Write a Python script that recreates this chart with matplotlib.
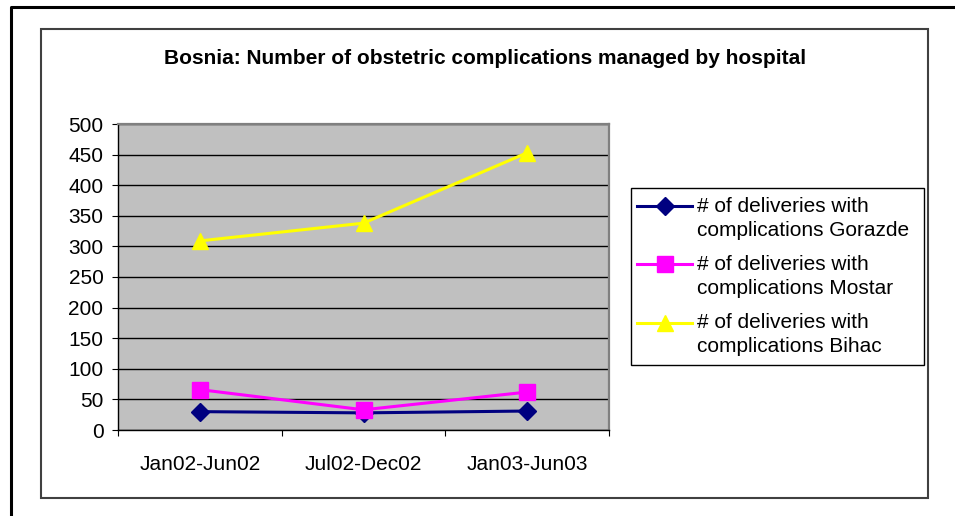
import numpy as np
import matplotlib
import matplotlib.pyplot as plt
from matplotlib.patches import Rectangle
from matplotlib.lines import Line2D

matplotlib.use('Agg')
plt.rcParams['font.family'] = ['Liberation Sans', 'DejaVu Sans']

# Данные
periods = ["Jan02-Jun02", "Jul02-Dec02", "Jan03-Jun03"]
gorazde = [30, 28, 31]
mostar = [66, 33, 62]
bihac = [309, 338, 453]
labels = ["# of deliveries with\ncomplications Gorazde",
          "# of deliveries with\ncomplications Mostar",
          "# of deliveries with\ncomplications Bihac"]
colors = ['#000080', '#ff00ff', '#ffff00']
markers = ['D', 's', '^']
msizes = [9, 12, 12]

W, H = 955, 516
fig = plt.figure(figsize=(W / 100, H / 100), dpi=100)


# перевод пикселей в координаты фигуры
def fx(px):
    return px / W


def fy(py):
    return 1 - py / H


# внешняя рамка (правый и нижний края за пределами картинки)
fig.lines.append(Line2D([fx(11), fx(11), fx(956)], [fy(517), fy(7), fy(7)],
                        transform=fig.transFigure, color='black', linewidth=2.2))
# рамка области диаграммы
fig.patches.append(Rectangle((fx(41), fy(498)), (928 - 41) / W, (498 - 29) / H,
                             transform=fig.transFigure, fill=False,
                             edgecolor='#404040', linewidth=1.5))

ax = fig.add_axes([fx(118), fy(430), (609 - 118) / W, (430 - 124) / H])
ax.set_facecolor('#c0c0c0')
x = np.arange(len(periods))
series = [gorazde, mostar, bihac]
for vals, c, m, ms, lab in zip(series, colors, markers, msizes, labels):
    ax.plot(x, vals, color=c, marker=m, markersize=ms, linewidth=2.2, label=lab)

ax.set_xlim(-0.5, 2.5)
ax.set_ylim(0, 500)
ax.set_yticks(range(0, 501, 50))
ax.yaxis.grid(True, color='black', linewidth=1)
ax.set_axisbelow(True)
ax.set_xticks([-0.5, 0.5, 1.5, 2.5])
ax.set_xticklabels([])
ax.set_xticks(x, minor=True)
ax.set_xticklabels(periods, minor=True)
ax.tick_params(axis='x', which='minor', length=0, pad=18, labelsize=15)
ax.tick_params(axis='x', which='major', length=4.5, direction='out')
ax.tick_params(axis='y', length=4.5, direction='out', labelsize=15, pad=6)
for s in ['top', 'right']:
    ax.spines[s].set_color('#808080')
    ax.spines[s].set_linewidth(1.6)
for s in ['left', 'bottom']:
    ax.spines[s].set_color('black')
    ax.spines[s].set_linewidth(1)

fig.text(fx(485), fy(58), "Bosnia: Number of obstetric complications managed by hospital",
         ha='center', va='center', fontsize=15, fontweight='bold')

# легенда: маркер на уровне первой строки подписи
fig.patches.append(Rectangle((fx(631), fy(365)), (924 - 631) / W, (365 - 188) / H,
                             transform=fig.transFigure, fill=False,
                             edgecolor='black', linewidth=1))
for i, (c, m, ms, lab) in enumerate(zip(colors, markers, msizes, labels)):
    y1 = 206 + i * 58.3
    fig.lines.append(Line2D([fx(637), fx(692)], [fy(y1), fy(y1)], transform=fig.transFigure,
                            color=c, linewidth=2.2))
    fig.lines.append(Line2D([fx(664.5)], [fy(y1)], transform=fig.transFigure,
                            color=c, marker=m, markersize=ms, linestyle='none'))
    for j, line in enumerate(lab.split("\n")):
        fig.text(fx(697), fy(y1 + j * 24), line, ha='left', va='center', fontsize=15)

plt.savefig("out.png", dpi=100)
